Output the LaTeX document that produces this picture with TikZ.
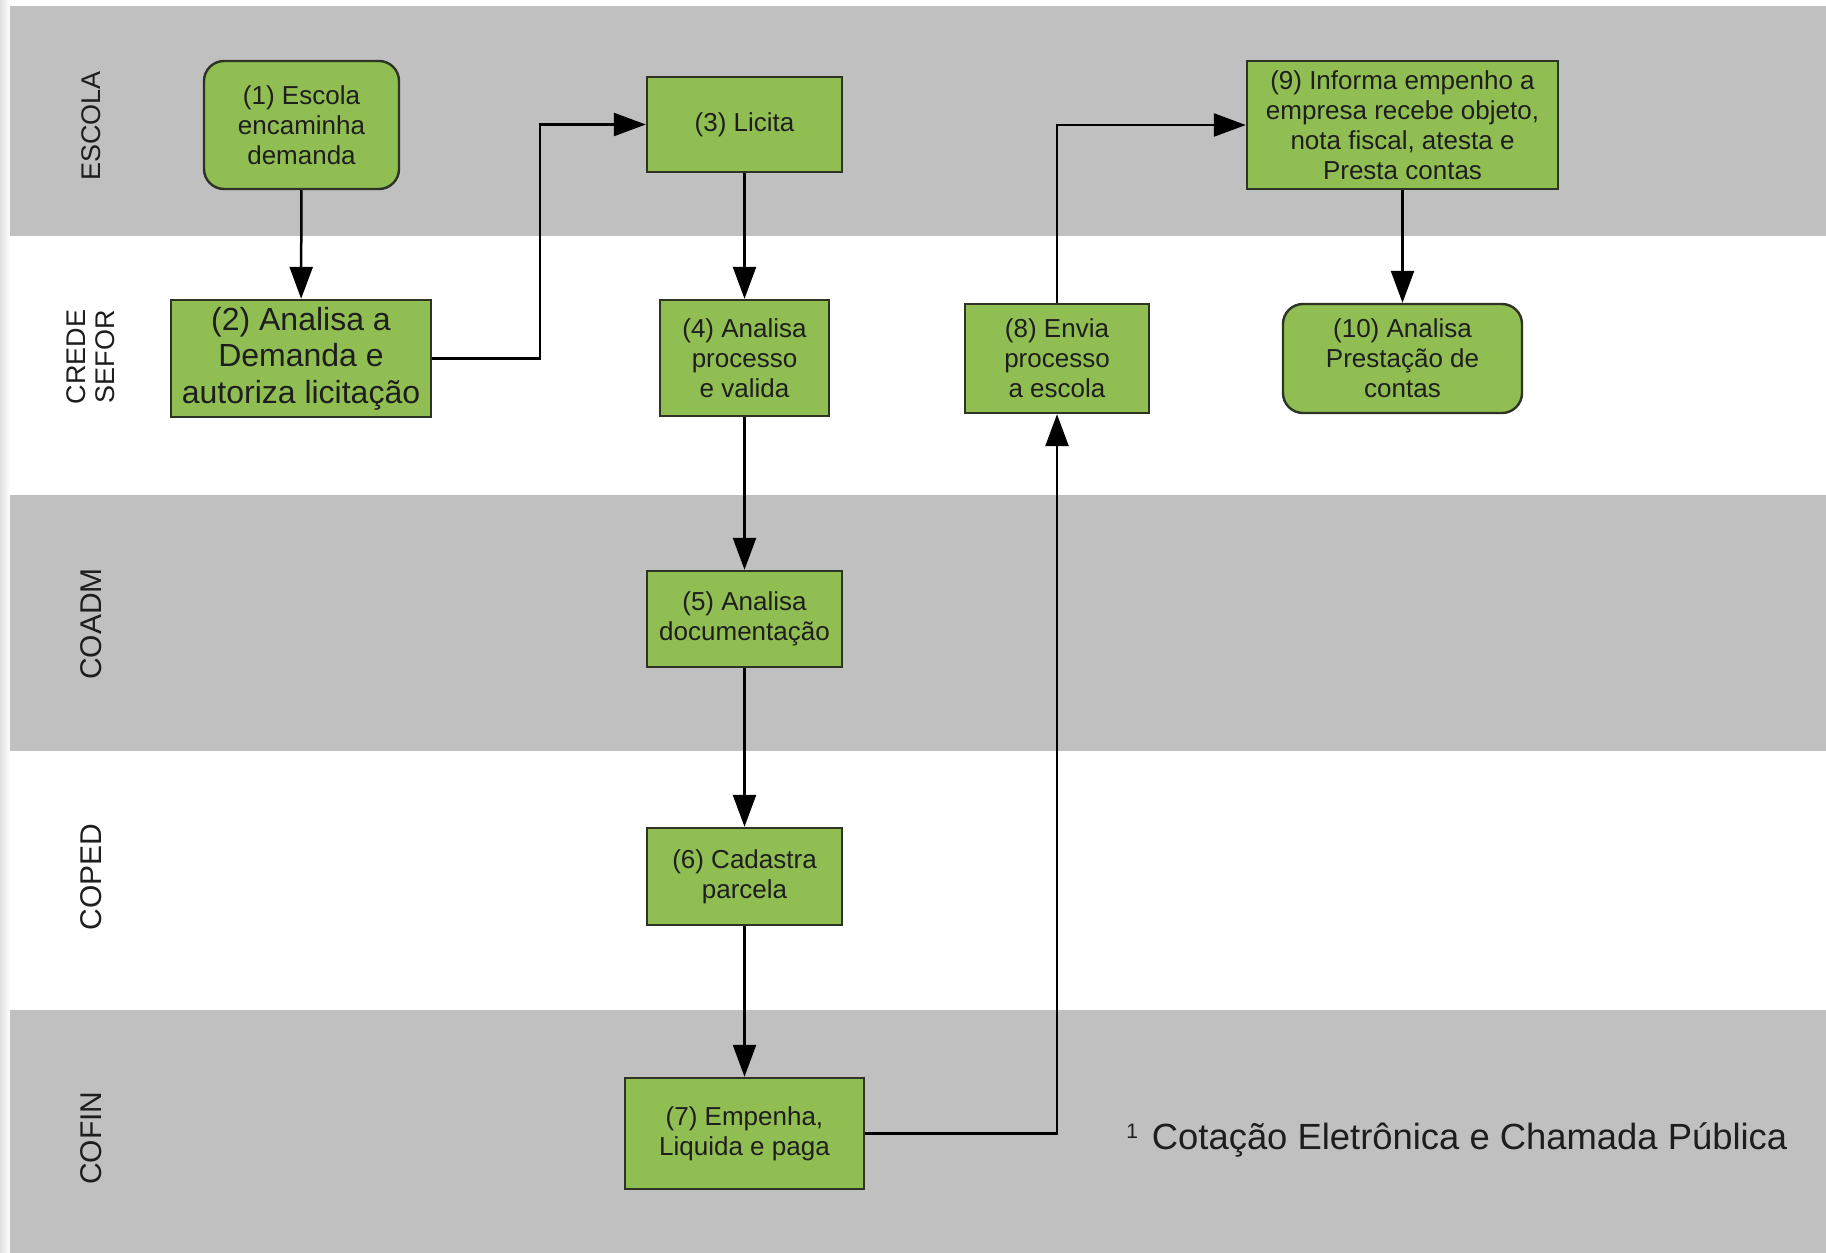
\documentclass[tikz,border=0pt]{standalone}
\usepackage{fontspec}
\setmainfont{Liberation Sans}
\usetikzlibrary{arrows.meta}
\definecolor{laneGrey}{RGB}{192,192,192}
\definecolor{boxGreen}{RGB}{145,190,82}
\definecolor{boxEdge}{RGB}{45,52,38}
\definecolor{inkDark}{RGB}{30,30,30}
\tikzset{
  stepbox/.style={draw=boxEdge, line width=1.2pt, fill=boxGreen, text=inkDark,
    align=center, inner sep=0pt, font=\fontsize{13}{15}\selectfont},
  roundbox/.style={stepbox, rounded corners=10pt},
  lanelabel/.style={rotate=90, align=center, text=inkDark, inner sep=0pt},
  flow/.style={draw=black, line width=1.25pt, -{Triangle[length=16pt,width=11.5pt]}}
}
\begin{document}
\begin{tikzpicture}[x=0.5pt,y=-0.5pt]
  % canvas (pixel grid, y downward)
  \useasboundingbox (0,0) rectangle (1826,1253);
  \fill[white] (0,0) rectangle (1826,1253);
  \shade[left color=black!12, right color=white] (0,0) rectangle (10,1253);

  % swim lanes
  \fill[laneGrey] (10,6) rectangle (1826,236);
  \fill[white]    (10,236) rectangle (1826,495);
  \fill[laneGrey] (10,495) rectangle (1826,751);
  \fill[white]    (10,751) rectangle (1826,1010);
  \fill[laneGrey] (10,1010) rectangle (1826,1253);

  % lane titles
  \node[lanelabel, font=\fontsize{13.5}{15}\selectfont] (lEscola) at (91,126) {ESCOLA};
  \node[lanelabel, font=\fontsize{13.5}{14.5}\selectfont] (lCrede) at (91,357) {CREDE\\SEFOR};
  \node[lanelabel, font=\fontsize{15}{16}\selectfont] (lCoadm) at (91,624) {COADM};
  \node[lanelabel, font=\fontsize{15}{16}\selectfont] (lCoped) at (91,877) {COPED};
  \node[lanelabel, font=\fontsize{15}{16}\selectfont] (lCofin) at (91,1138) {COFIN};

  % process steps
  \node[roundbox, minimum width=97.5pt, minimum height=64pt] (n1) at (301.5,125)
    {(1) Escola\\encaminha\\demanda};
  \node[stepbox, minimum width=130pt, minimum height=58.5pt,
        font=\fontsize{16}{18.3}\selectfont] (n2) at (301,358.5)
    {(2) Analisa a\\Demanda e\\autoriza licitação};
  \node[stepbox, minimum width=97.5pt, minimum height=47.5pt] (n3) at (744.5,124.5)
    {(3) Licita};
  \node[stepbox, minimum width=84.5pt, minimum height=58pt] (n4) at (744.5,358)
    {(4) Analisa\\processo\\e valida};
  \node[stepbox, minimum width=97.5pt, minimum height=48pt] (n5) at (744.5,619)
    {(5) Analisa\\documentação};
  \node[stepbox, minimum width=97.5pt, minimum height=48.5pt] (n6) at (744.5,876.5)
    {(6) Cadastra\\parcela};
  \node[stepbox, minimum width=119.5pt, minimum height=55.5pt] (n7) at (744.5,1133.5)
    {(7) Empenha,\\Liquida e paga};
  \node[stepbox, minimum width=92pt, minimum height=54.5pt] (n8) at (1057,358.5)
    {(8) Envia\\processo\\a escola};
  \node[stepbox, minimum width=155.5pt, minimum height=64pt] (n9) at (1402.5,125)
    {(9) Informa empenho a\\empresa recebe objeto,\\nota fiscal, atesta e\\Presta contas};
  \node[roundbox, minimum width=119.5pt, minimum height=54.5pt] (n10) at (1402.5,358.5)
    {(10) Analisa\\Prestação de\\contas};

  % footnote
  \node[anchor=west, inner sep=0pt, text=inkDark, font=\fontsize{18.2}{20}\selectfont]
    (note) at (1126,1140)
    {\raisebox{0.6ex}{\fontsize{10.5}{11}\selectfont 1}\hspace{0.38em}Cotação Eletrônica e Chamada Pública};

  % flow
  \draw[flow] (n1) -- (n2);
  \draw[flow] (n2.east) -- ++(108,0) |- (n3.west);
  \draw[flow] (n3) -- (n4);
  \draw[flow] (n4) -- (n5);
  \draw[flow] (n5) -- (n6);
  \draw[flow] (n6) -- (n7);
  \draw[flow] (n7.east) -| (n8.south);
  \draw[flow] (n8.north) |- (n9.west);
  \draw[flow] (n9) -- (n10);
\end{tikzpicture}
\end{document}
